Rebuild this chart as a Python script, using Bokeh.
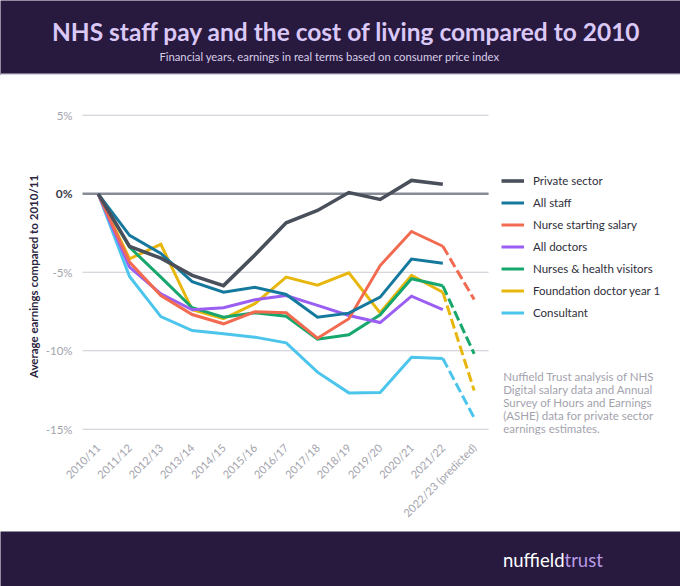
import math
from bokeh.plotting import figure
from bokeh.layouts import column
from bokeh.models import Range1d, Label, Legend, LegendItem, FixedTicker, BoxAnnotation
from bokeh.core.properties import value
from bokeh.embed import file_html
from bokeh.resources import INLINE

# ---------------- data ----------------
years = ["2010/11", "2011/12", "2012/13", "2013/14", "2014/15", "2015/16", "2016/17",
         "2017/18", "2018/19", "2019/20", "2020/21", "2021/22", "2022/23 (predicted)"]

private_sector = [0, -3.35, -4.1, -5.2, -5.85, -3.9, -1.85, -1.06, 0.08, -0.36, 0.85, 0.61]
all_staff = [0, -2.65, -3.8, -5.6, -6.27, -5.95, -6.41, -7.86, -7.6, -6.58, -4.16, -4.42]
nurse_starting = [0, -4.35, -6.48, -7.69, -8.28, -7.52, -7.58, -9.2, -7.96, -4.57, -2.4, -3.34, -6.73]
all_doctors = [0, -4.67, -6.37, -7.39, -7.26, -6.75, -6.48, -7.11, -7.75, -8.2, -6.52, -7.37]
nurses_hv = [0, -3.4, -5.31, -7.26, -7.86, -7.58, -7.8, -9.26, -8.98, -7.71, -5.41, -5.86, -10.19]
foundation_y1 = [0, -4.14, -3.22, -7.39, -7.96, -7.0, -5.31, -5.82, -5.03, -7.58, -5.2, -6.27, -12.53]
consultant = [0, -5.27, -7.82, -8.71, -8.92, -9.13, -9.49, -11.36, -12.68, -12.66, -10.41, -10.49, -14.27]

series_names = ["Private sector", "All staff", "Nurse starting salary", "All doctors",
                "Nurses & health visitors", "Foundation doctor year 1", "Consultant"]
series_values = [private_sector, all_staff, nurse_starting, all_doctors,
                 nurses_hv, foundation_y1, consultant]

y_ticks = [5, 0, -5, -10, -15]
y_tick_labels = ["5%", "0%", "-5%", "-10%", "-15%"]

note_lines = ["Nuffield Trust analysis of NHS", "Digital salary data and Annual",
              "Survey of Hours and Earnings", "(ASHE) data for private sector",
              "earnings estimates."]

# ---------------- styles ----------------
colors = ["#4a505b", "#15799e", "#f26a50", "#9a5ff2", "#17a76d", "#e8b70e", "#4cc5ec"]
widths = [3.6, 3, 3, 3, 3, 3, 3]

W = 680
HEAD_H, MAIN_H, FOOT_H = 75, 456, 55
BG_DARK = "#28193f"
FONT = "Lato"
BOT_B = 97                      # frame bottom at page y = HEAD_H + MAIN_H - BOT_B
FRAME_BOTTOM = HEAD_H + MAIN_H - BOT_B


def fy(page_y):
    """page y -> screen y measured up from the chart frame bottom"""
    return FRAME_BOTTOM - page_y


# ---------------- header ----------------
head = figure(width=W, height=HEAD_H, x_range=Range1d(0, W), y_range=Range1d(0, HEAD_H),
              toolbar_location=None, output_backend="svg",
              x_axis_location=None, y_axis_location=None, min_border=0)
head.grid.visible = False
head.background_fill_color = BG_DARK
head.border_fill_color = BG_DARK
head.outline_line_color = None
head.add_layout(Label(x=346, y=44, text="NHS staff pay and the cost of living compared to 2010",
                      text_align="center", text_baseline="middle", text_font=FONT,
                      text_font_style="bold", text_font_size="24.5px", text_color="#dac8f6"))
head.add_layout(Label(x=329, y=19, text="Financial years, earnings in real terms based on consumer price index",
                      text_align="center", text_baseline="middle", text_font=FONT,
                      text_font_size="11.3px", text_color="#d8cfe8"))
head.add_layout(BoxAnnotation(bottom=0, top=2, fill_color="#d4d4dc", fill_alpha=1, line_color=None))

# ---------------- main chart ----------------
x0_px, step_px = 97.7, 31.33
zero_px, pct_px = 193.3 - HEAD_H, 15.7
frame_h = MAIN_H - BOT_B
p = figure(width=W, height=MAIN_H,
           x_range=Range1d(-x0_px / step_px, (W - x0_px) / step_px),
           y_range=Range1d(-(frame_h - zero_px) / pct_px, zero_px / pct_px),
           toolbar_location=None, output_backend="svg", y_axis_location=None,
           min_border_left=0, min_border_right=0, min_border_top=0, min_border_bottom=BOT_B)
p.outline_line_color = None
p.background_fill_color = "white"
p.border_fill_color = "white"
p.xgrid.visible = False
p.ygrid.visible = False

# gridlines
grid_start, grid_end = -0.5, 12.46
for t in y_ticks:
    if t == 0:
        p.segment(x0=grid_start, x1=grid_end, y0=t, y1=t, line_color="#878c97", line_width=2.6)
    else:
        p.segment(x0=grid_start, x1=grid_end, y0=t, y1=t, line_color="#c9c9d1", line_width=1.1)

# y tick labels
other = [(t, lab) for t, lab in zip(y_ticks, y_tick_labels) if t != 0]
p.text(x=[grid_start] * len(other), y=[t for t, _ in other], text=[lab for _, lab in other],
       x_offset=-10, text_align="right", text_baseline="middle", text_font=value(FONT),
       text_font_size="11.5px", text_color="#a3a3ad")
p.text(x=[grid_start], y=[0], text=[y_tick_labels[1]], x_offset=-10, text_align="right",
       text_baseline="middle", text_font=value(FONT), text_font_style="bold",
       text_font_size="12px", text_color="#3b3e4a")

xs = list(range(len(years)))
rmap = {}
for i in list(range(len(series_names)))[::-1]:
    vals = series_values[i]
    n_solid = min(len(vals), 12)
    rmap[i] = p.line(xs[:n_solid], vals[:n_solid], line_color=colors[i], line_width=widths[i],
                     line_join="miter")
    if len(vals) > 12:
        p.line(xs[11:len(vals)], vals[11:], line_color=colors[i], line_width=widths[i],
               line_dash="10 4")

# x axis
p.xaxis.ticker = FixedTicker(ticks=xs)
p.xaxis.major_label_overrides = {i: years[i] for i in xs}
p.xaxis.major_label_orientation = math.pi / 4
p.xaxis.axis_line_color = None
p.xaxis.major_tick_line_color = None
p.xaxis.minor_tick_line_color = None
p.xaxis.major_label_text_color = "#a3a3ad"
p.xaxis.major_label_text_font = FONT
p.xaxis.major_label_text_font_size = "11px"
p.xaxis.major_label_standoff = 5

# y axis title
p.add_layout(Label(x=32.5, y=fy(276), x_units="screen", y_units="screen",
                   text="Average earnings compared to 2010/11", angle=math.pi / 2,
                   text_align="center", text_baseline="middle", text_font=FONT,
                   text_font_style="bold", text_font_size="11.5px", text_color="#2b2540"))

# legend
items = [LegendItem(label=series_names[i], renderers=[rmap[i]]) for i in range(len(series_names))]
legend = Legend(items=items, location=(501, fy(319.5)),
                border_line_color=None, background_fill_alpha=0, padding=0, margin=0,
                spacing=7, label_height=15, glyph_height=15, glyph_width=23, label_standoff=9,
                label_text_font=FONT, label_text_font_size="11.5px", label_text_color="#2e2e3a")
p.add_layout(legend)

# note
for k, line in enumerate(note_lines):
    p.add_layout(Label(x=502.7, y=fy(376 + 13 * k), x_units="screen", y_units="screen",
                       text=line, text_align="left", text_baseline="middle", text_font=FONT,
                       text_font_size="11.5px", text_color="#a3a3ad"))

# ---------------- footer ----------------
foot = figure(width=W, height=FOOT_H, x_range=Range1d(0, W), y_range=Range1d(0, FOOT_H),
              toolbar_location=None, output_backend="svg",
              x_axis_location=None, y_axis_location=None, min_border=0)
foot.grid.visible = False
foot.background_fill_color = BG_DARK
foot.border_fill_color = BG_DARK
foot.outline_line_color = None
foot.add_layout(Label(x=564, y=27, text="nuffield", text_align="right", text_baseline="alphabetic",
                      text_font=FONT, text_font_size="18.5px", text_color="#ffffff"))
foot.add_layout(Label(x=564, y=27, text="trust", text_align="left", text_baseline="alphabetic",
                      text_font=FONT, text_font_size="18.5px", text_color="#b89ce6"))

layout = column(head, p, foot, spacing=0)
open("out.html", "w").write(file_html(layout, INLINE))
